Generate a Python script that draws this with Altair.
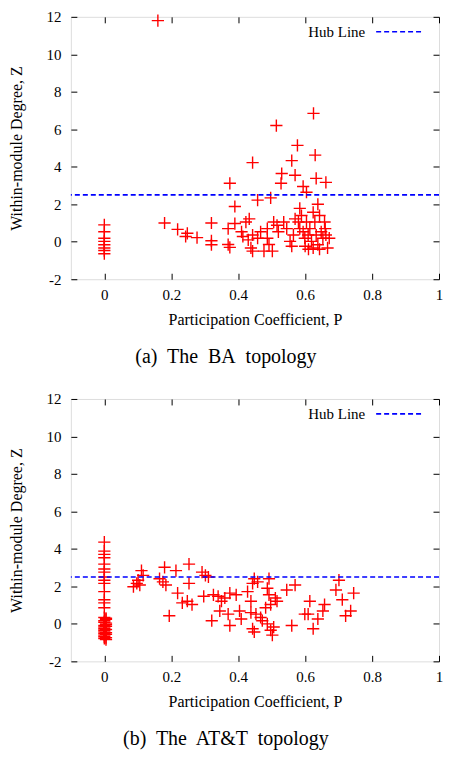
import altair as alt
import pandas as pd

# Panel (a): BA topology
ba_P = [0.16, 0.625, 0.514, 0.577, 0.63, 0.443, 0.56, 0.53, 0.57, 0.528, 0.633, 0.662, 0.375,
        0.594, 0.604, 0.497, 0.458, 0.638, 0.39, 0.584, 0.18, 0.32, 0.219, 0.248, 0.243, 0.277,
        0.32, 0.32, 0.37, 0.375, 0.37, 0.39, 0.41, 0.423, 0.433, 0.443, 0.438, 0.443, 0.458,
        0.43, 0.414, 0.467, 0.487, 0.492, 0.502, 0.477, 0.487, 0.506, 0.516, 0.52, 0.536, 0.545,
        0.555, 0.56, 0.565, 0.57, 0.58, 0.584, 0.589, 0.594, 0.599, 0.604, 0.609, 0.614, 0.619,
        0.624, 0.624, 0.629, 0.633, 0.638, 0.643, 0.648, 0.653, 0.658, 0.662, 0.667, 0.672,
        0.6, 0.61, 0.643, 0.66,
        0, 0, 0, 0, 0, 0, 0, 0]
ba_Z = [11.8, 6.85, 6.2, 5.14, 4.62, 4.22, 4.33, 3.64, 3.55, 3.12, 3.38, 3.17, 3.12,
        2.95, 2.64, 2.34, 2.22, 2.0, 1.88, 1.78, 1.0, 1.0, 0.66, 0.45, 0.28, 0.22,
        0.05, -0.16, 0.7, -0.3, -0.15, 0.97, 0.53, 1.05, 1.22, 0.36, -0.33, -0.5, 0.19,
        0.1, 0.28, 0.53, 0.7, -0.15, -0.5, -0.5, 0.19, 1.05, 0.88, 0.53, 1.05, 0.7,
        0.02, -0.24, 0.36, 1.22, 1.05, 0.7, 1.4, 0.53, 0.19, 1.05, 0.36, 0.7, 0.02,
        1.57, -0.33, 1.05, 0.36, -0.16, 1.4, 0.53, 0.19, 1.05, 0.36, -0.33, 0.19,
        -0.24, -0.4, -0.4, 0.7,
        0.9, 0.53, 0.19, 0.02, -0.16, -0.33, -0.47, -0.64]

# Panel (b): AT&T topology
att_P = [0] * 26 + [0.005, 0.005, 0.005, 0.005, 0.005, 0.005, 0.005, 0.005, 0.005, 0.005] + [
    0.097, 0.087, 0.101, 0.111, 0.116, 0.106, 0.165, 0.175, 0.18, 0.184, 0.214, 0.194,
    0.253, 0.253, 0.292, 0.302, 0.311, 0.219, 0.233, 0.248, 0.262, 0.297, 0.321, 0.326,
    0.34, 0.35, 0.36, 0.345, 0.375, 0.37, 0.375, 0.394, 0.404, 0.409, 0.428, 0.438, 0.438,
    0.443, 0.448, 0.448, 0.458, 0.443, 0.453, 0.467, 0.472, 0.482, 0.487, 0.492, 0.492,
    0.497, 0.487, 0.497, 0.502, 0.506, 0.511, 0.516, 0.545, 0.57, 0.56, 0.599, 0.609,
    0.614, 0.624, 0.638, 0.653, 0.658, 0.692, 0.701, 0.711, 0.721, 0.736, 0.745]
att_Z = [4.36, 3.88, 3.71, 3.53, 3.19, 2.93, 2.76, 2.5, 2.33, 2.16, 1.72, 1.29, 1.12, 0.86,
         0.34, 0.17, 0.09, -0.09, -0.17, -0.26, -0.34, -0.43, -0.52, -0.6, -0.69, -0.78] + [
    0.3, 0.24, 0.04, -0.04, -0.13, -0.3, -0.47, -0.56, -0.74, -0.84] + [
    2.16, 1.98, 2.33, 2.84, 2.59, 2.07, 2.41, 2.24, 3.02, 2.07, 2.84, 0.43,
    3.19, 2.16, 2.76, 2.59, 2.5, 1.64, 1.12, 1.21, 1.03, 1.47, 0.17, 1.55,
    1.47, 1.21, 1.38, 0.69, 1.64, 0.52, -0.09, 1.55, 0.69, 0.26, 1.72, 1.21, 0.6,
    -0.26, -0.43, 2.41, 2.24, 2.16, 0.52, 0.34, 0.17, 0.86, 1.9, 2.41, 1.55,
    1.03, 0.0, -0.34, -0.6, -0.17, 1.38, 1.21, 1.81, 2.07, -0.09, 0.52, 0.52,
    1.21, -0.26, 0.26, 0.69, 1.03, 1.81, 2.33, 1.29, 0.43, 0.69, 1.64]

hub_value = [2.5]
legend_label = ["Hub Line"]
captions = ["(a)\u00a0 The\u00a0 BA\u00a0 topology", "(b)\u00a0 The\u00a0 AT&T\u00a0 topology"]
x_ticks = [0, 0.2, 0.4, 0.6, 0.8, 1]
y_ticks = [-2, 0, 2, 4, 6, 8, 10, 12]

FONT = "Liberation Serif"
PLUS = "M-1,0L1,0M0,-1L0,1"
W, H = 369, 263


def panel(P, Z, caption):
    df = pd.DataFrame({"P": P, "Z": Z})
    xs = alt.Scale(domain=[-0.1, 1], nice=False, zero=False)
    ys = alt.Scale(domain=[-2, 12], nice=False, zero=False)
    tick_style = dict(domain=False, offset=-6, tickSize=6, tickColor="black", tickWidth=1,
                      grid=False)
    text_style = dict(labelFont=FONT, labelFontSize=15, labelColor="black",
                      labelExpr="'' + datum.value", labelFlush=False,
                      titleFont=FONT, titleFontSize=16, titleFontWeight="normal",
                      titleColor="black")
    pts = alt.Chart(df).mark_point(shape=PLUS, size=150, color="#ff0000", filled=False,
                                   strokeWidth=1.4, opacity=1).encode(
        x=alt.X("P:Q", scale=xs,
                axis=alt.Axis(values=x_ticks, title="Participation Coefficient, P",
                              labelPadding=8, titlePadding=9, **tick_style, **text_style)),
        y=alt.Y("Z:Q", scale=ys,
                axis=alt.Axis(values=y_ticks, title="Within-module Degree, Z",
                              labelPadding=10, titlePadding=21, **tick_style, **text_style)),
    )
    mirror = alt.Chart(df).mark_point(opacity=0).encode(
        x=alt.X("P:Q", scale=xs,
                axis=alt.Axis(orient="top", values=x_ticks, labels=False, title=None,
                              minExtent=0, maxExtent=0, **tick_style)),
        y=alt.Y("Z:Q", scale=ys,
                axis=alt.Axis(orient="right", values=y_ticks, labels=False, title=None,
                              minExtent=0, maxExtent=0, **tick_style)),
    )
    hub = alt.Chart(pd.DataFrame({"Z": hub_value})).mark_rule(
        color="#0000ff", strokeDash=[5, 3], strokeWidth=1.6).encode(
        y=alt.Y("Z:Q", scale=ys, axis=None))
    leg_text = alt.Chart(pd.DataFrame({"label": legend_label})).mark_text(
        font=FONT, fontSize=15, align="right", baseline="middle", color="black").encode(
        x=alt.value(W - 74), y=alt.value(15), text="label:N")
    leg_line = alt.Chart(pd.DataFrame({"label": legend_label})).mark_rule(
        color="#0000ff", strokeDash=[5, 3], strokeWidth=1.6).encode(
        x=alt.value(W - 63), x2=alt.value(W - 18), y=alt.value(15))
    return alt.layer(pts, mirror, hub, leg_line, leg_text).resolve_axis(
        x="independent", y="independent").properties(
        width=W, height=H,
        title=alt.TitleParams(caption, orient="bottom", font=FONT, fontSize=20,
                              fontWeight="normal", color="black", offset=20,
                              frame="bounds", anchor="middle"))


chart = alt.vconcat(
    panel(ba_P, ba_Z, captions[0]),
    panel(att_P, att_Z, captions[1]),
    spacing=23,
).properties(
    padding={"left": 0, "top": 0, "right": 0, "bottom": 0},
).configure_view(stroke="black", strokeWidth=1.2).configure(background="white")

chart.save("out.html", embed_options={"renderer": "svg", "actions": False})
